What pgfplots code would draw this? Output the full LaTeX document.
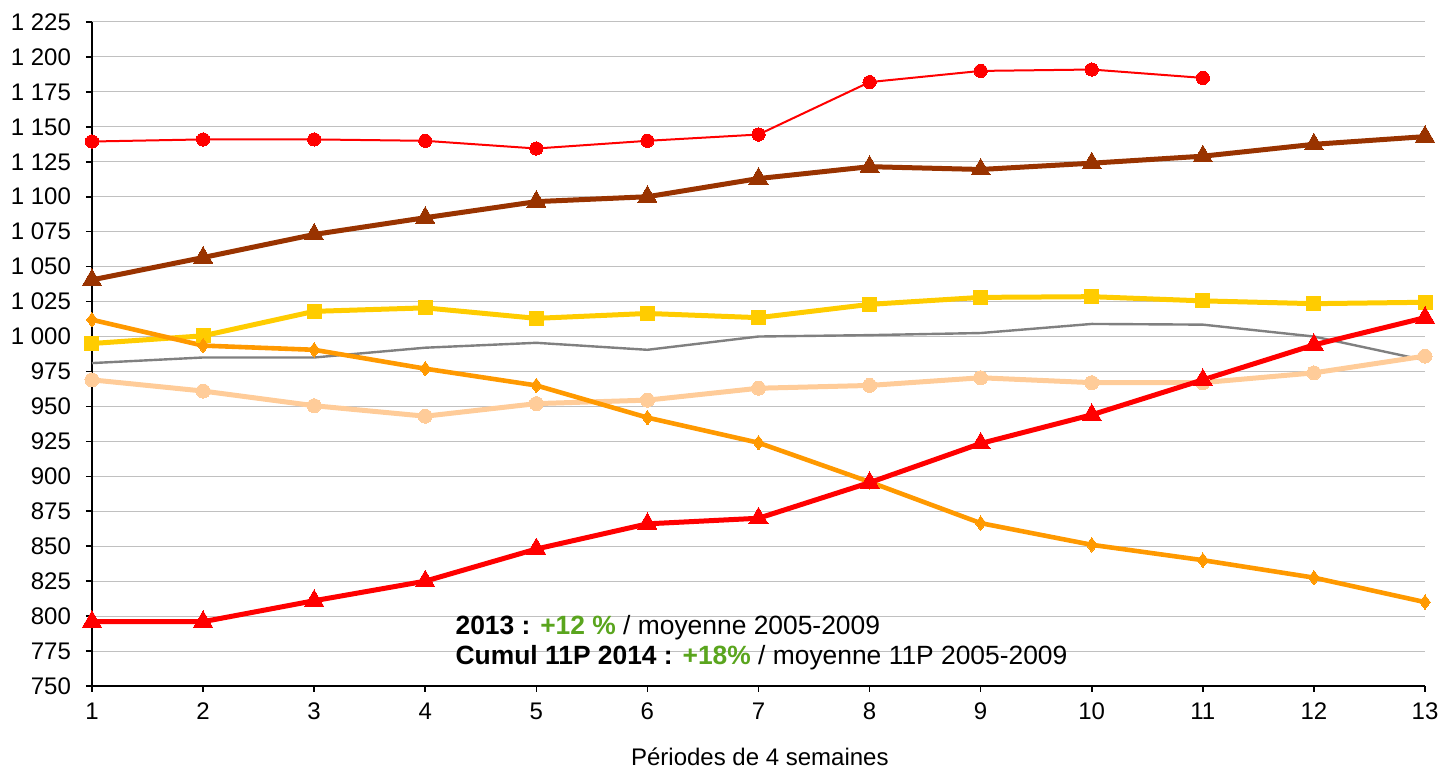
\documentclass[border=0pt]{standalone}
\usepackage{pgfplots}
\pgfplotsset{compat=1.18}
\usepackage{fontspec}
\setmainfont{Liberation Sans}
\definecolor{rouge}{HTML}{FF0000}
\definecolor{brun}{HTML}{993300}
\definecolor{jaune}{HTML}{FFCC00}
\definecolor{gris}{HTML}{808080}
\definecolor{peche}{HTML}{FFCC99}
\definecolor{orange}{HTML}{FF9900}
\definecolor{vert}{HTML}{5AA51E}
\definecolor{grille}{HTML}{C0C0C0}

\begin{document}
\begin{tikzpicture}
\useasboundingbox (-46pt,-42.5pt) rectangle (675pt,343pt);
\begin{axis}[
at={(0pt,0pt)}, anchor=origin,
scale only axis,
width=666.5pt, height=332pt,
xmin=1, xmax=13, ymin=750, ymax=1225,
xtick={1,...,13},
ytick={750,775,...,1225},
axis lines*=left,
axis line style={black, line width=0.8pt},
tick align=outside,
major tick length=3pt,
tick style={black, line width=0.8pt},
ymajorgrids,
grid style={grille, line width=0.5pt},
/pgf/number format/assume math mode=true,
/pgf/number format/1000 sep={\ },
ticklabel style={font=\fontsize{12}{14}\selectfont},
yticklabel style={xshift=-4pt},
xticklabel style={yshift=-2pt},
clip=false,
]
% gris
\addplot[gris, line width=1.2pt, no marks] coordinates {
(1,981)(2,985)(3,985)(4,992)(5,995.5)(6,990.5)(7,1000)(8,1001)(9,1002.5)(10,1009)(11,1008.5)(12,1000)(13,983)};
% peche
\addplot[peche, line width=2.5pt, mark=*, mark size=3.5pt, mark options={fill=peche, draw=peche, line width=0pt}] coordinates {
(1,969)(2,961)(3,950.5)(4,943)(5,952)(6,954.5)(7,963)(8,965)(9,970.5)(10,967)(11,967)(12,974)(13,986)};
% jaune
\addplot[jaune, line width=2.5pt, mark=square*, mark size=3.5pt, mark options={fill=jaune, draw=jaune, line width=0pt}] coordinates {
(1,995)(2,1000.5)(3,1018)(4,1020.5)(5,1013)(6,1016.5)(7,1013.5)(8,1023)(9,1028)(10,1028.5)(11,1025.5)(12,1023.5)(13,1024.5)};
% orange
\addplot[orange, line width=2.3pt, mark=diamond*, mark size=3.6pt, mark options={fill=orange, draw=orange, line width=0pt}] coordinates {
(1,1012)(2,993.5)(3,990.5)(4,977)(5,965)(6,942)(7,924)(8,896)(9,866.5)(10,851)(11,840)(12,827.5)(13,810)};
% brun
\addplot[brun, line width=2.5pt, mark=triangle*, mark size=5.5pt, mark options={fill=brun, draw=brun, line width=0pt}] coordinates {
(1,1040.5)(2,1056.5)(3,1073)(4,1085)(5,1096.5)(6,1100)(7,1113)(8,1121.5)(9,1119.5)(10,1124)(11,1129)(12,1137.5)(13,1143)};
% rouge ronds
\addplot[rouge, line width=1pt, mark=*, mark size=3.3pt, mark options={fill=rouge, draw=rouge, line width=0pt}] coordinates {
(1,1139.5)(2,1141)(3,1141)(4,1140)(5,1134.5)(6,1140)(7,1144.5)(8,1182)(9,1190)(10,1191)(11,1185)};
% rouge triangles
\addplot[rouge, line width=2.5pt, mark=triangle*, mark size=5.5pt, mark options={fill=rouge, draw=rouge, line width=0pt}] coordinates {
(1,796)(2,796)(3,811)(4,825)(5,848)(6,866)(7,870)(8,895.5)(9,923.5)(10,944)(11,969)(12,994)(13,1013.5)};

\node[anchor=west, inner sep=0pt, font=\fontsize{13.2}{15}\selectfont] at (axis cs:4.27,791.5)
  {\textbf{2013 : \textcolor{vert}{+12 \%}} / moyenne 2005-2009};
\node[anchor=west, inner sep=0pt, font=\fontsize{13.2}{15}\selectfont] at (axis cs:4.27,770)
  {\textbf{Cumul 11P 2014 : \textcolor{vert}{+18\%}} / moyenne 11P 2005-2009};
\node[anchor=center, inner sep=0pt, font=\fontsize{12}{14}\selectfont] at ([yshift=-35.5pt]rel axis cs:0.501,0)
  {Périodes de 4 semaines};
\end{axis}
\end{tikzpicture}
\end{document}
